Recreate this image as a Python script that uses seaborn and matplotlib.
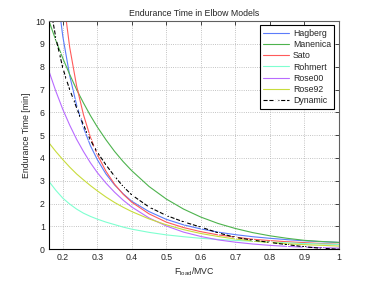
import pandas as pd
import matplotlib
matplotlib.use('Agg')
import matplotlib.pyplot as plt
import seaborn as sns

f_load = [0.16, 0.18, 0.2, 0.22, 0.24, 0.26, 0.28, 0.3, 0.325, 0.35, 0.375, 0.4,
          0.45, 0.5, 0.55, 0.6, 0.65, 0.7, 0.75, 0.8, 0.85, 0.9, 0.95, 1.0]

hagberg = [15.0, 11.7, 9.33, 7.61, 6.32, 5.33, 4.54, 3.93, 3.30, 2.82, 2.43, 2.10,
           1.65, 1.31, 1.07, 0.89, 0.75, 0.64, 0.55, 0.48, 0.42, 0.37, 0.33, 0.30]
manenica = [10.0, 9.15, 8.37, 7.66, 7.0, 6.41, 5.86, 5.36, 4.8, 4.29, 3.84, 3.44,
            2.75, 2.2, 1.76, 1.41, 1.13, 0.91, 0.73, 0.59, 0.48, 0.39, 0.34, 0.30]
sato = [19.3, 14.4, 11.2, 8.85, 7.16, 5.89, 4.91, 4.15, 3.42, 2.85, 2.41, 2.06,
        1.55, 1.19, 0.95, 0.77, 0.63, 0.53, 0.44, 0.38, 0.33, 0.29, 0.25, 0.22]
rohmert = [2.97, 2.58, 2.24, 1.98, 1.76, 1.58, 1.44, 1.32, 1.19, 1.08, 0.97, 0.88,
           0.74, 0.63, 0.55, 0.48, 0.43, 0.39, 0.35, 0.31, 0.28, 0.25, 0.23, 0.21]
rose00 = [7.8, 6.92, 6.13, 5.44, 4.82, 4.28, 3.79, 3.36, 2.90, 2.50, 2.15, 1.85,
          1.37, 1.02, 0.75, 0.56, 0.41, 0.31, 0.23, 0.17, 0.125, 0.09, 0.07, 0.05]
rose92 = [4.66, 4.28, 3.93, 3.6, 3.3, 3.04, 2.79, 2.56, 2.29, 2.05, 1.84, 1.65,
          1.33, 1.07, 0.86, 0.69, 0.56, 0.45, 0.36, 0.30, 0.24, 0.20, 0.17, 0.14]

# dynamisches Modell (eigene Stuetzstellen)
f_dyn = [0.17, 0.18, 0.19, 0.2, 0.21, 0.22, 0.23, 0.24, 0.25, 0.26, 0.27, 0.28, 0.29,
         0.3, 0.325, 0.35, 0.375, 0.4, 0.45, 0.5, 0.55, 0.6, 0.65, 0.7, 0.75, 0.8,
         0.85, 0.9, 0.95, 1.0]
dynamic = [10.1, 9.25, 8.6, 7.95, 7.45, 7.0, 6.6, 6.2, 5.8, 5.45, 5.1, 4.8, 4.5,
           4.25, 3.7, 3.2, 2.75, 2.38, 1.85, 1.48, 1.2, 0.97, 0.72, 0.52, 0.4, 0.3,
           0.2, 0.11, 0.04, 0.0]

models = ['Hagberg', 'Manenica', 'Sato', 'Rohmert', 'Rose00', 'Rose92']
series = [hagberg, manenica, sato, rohmert, rose00, rose92]
colors = ['#5c7cfa', '#4db34d', '#ff5a5a', '#7fffd0', '#b86bff', '#c8dc3c']

sns.set_style('white')
plt.rcParams['font.family'] = ['Liberation Sans', 'DejaVu Sans']
plt.rcParams['mathtext.default'] = 'regular'

fig = plt.figure(figsize=(3.74, 2.81), dpi=100)
ax = fig.add_axes([0.131, 0.113, 0.775, 0.812])

for name, vals, col in zip(models, series, colors):
    df = pd.DataFrame({'F': f_load, 'ET': vals})
    sns.lineplot(data=df, x='F', y='ET', color=col, linewidth=0.8, ax=ax, legend=False)

df_dyn = pd.DataFrame({'F': f_dyn, 'ET': dynamic})
sns.lineplot(data=df_dyn, x='F', y='ET', color='black', linewidth=0.8, linestyle='--',
             marker='+', markersize=3, markeredgewidth=0.7, ax=ax, legend=False)

ax.set_xlim(0.16, 1.0)
ax.set_ylim(0, 10)
ax.set_xticks([0.2, 0.3, 0.4, 0.5, 0.6, 0.7, 0.8, 0.9, 1.0])
ax.set_xticklabels(['0.2', '0.3', '0.4', '0.5', '0.6', '0.7', '0.8', '0.9', '1'])
ax.set_yticks(range(0, 11))
ax.tick_params(direction='in', top=True, right=True, length=3, width=0.6,
               labelsize=6.3, pad=3)
ax.grid(True, linestyle=':', color='#b0b0b0', linewidth=0.6)
for sp in ax.spines.values():
    sp.set_color('black')
    sp.set_linewidth(0.8)
ax.spines['top'].set_color('#606060')
ax.spines['right'].set_color('#606060')

ax.set_title('Endurance Time in Elbow Models', fontsize=6.3, pad=4)
ax.set_xlabel('$F_{load}$/MVC', fontsize=6.3, labelpad=2)
ax.set_ylabel('Endurance Time [min]', fontsize=6.3, labelpad=3)

handles = ax.get_lines()[:7]
leg = ax.legend(handles, models + ['Dynamic'], loc='upper right', fontsize=6.3,
                fancybox=False, framealpha=1, edgecolor='black', borderpad=0.4,
                labelspacing=0.25, handlelength=3.0, handletextpad=0.4,
                borderaxespad=0.5)
leg.get_frame().set_linewidth(0.8)

plt.savefig('out.png', dpi=100)
